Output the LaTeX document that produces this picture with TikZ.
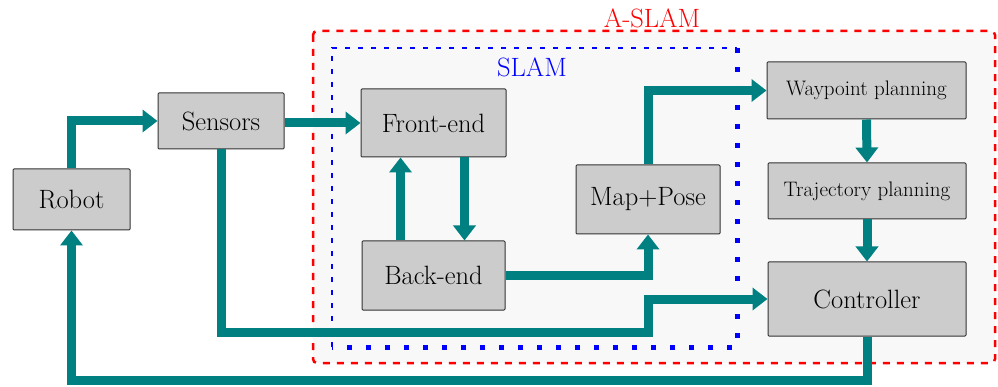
\documentclass[tikz,border=0pt]{standalone}
\usepackage{tikz}
\usetikzlibrary{arrows.meta}
\definecolor{tealline}{RGB}{0,128,128}
\definecolor{boxgray}{RGB}{204,204,204}
\definecolor{zonegray}{RGB}{248,248,248}
\tikzstyle{block}=[draw=black!80, fill=boxgray, line width=1pt, rounded corners=1pt, font=\fontsize{26.5}{30}\selectfont]
\tikzstyle{smallblock}=[block, font=\fontsize{21}{25}\selectfont]
\tikzstyle{arrow}=[draw=tealline, line width=9pt, -{Triangle[length=15pt, width=22pt]}]
\tikzstyle{zonered}=[draw=red, line width=2.5pt, dash pattern=on 7pt off 7pt, fill=zonegray, rounded corners=4pt]

\begin{document}
\begin{tikzpicture}[x=1pt, y=-1pt]
		   \useasboundingbox (0,0) rectangle (998,387);
		   \begin{scope}
			   \draw[zonered] (313,31) rectangle (995,363);
			   \node (aslam) at (652,18) [text=red, font=\fontsize{26.5}{30}\selectfont] {A-SLAM};
			   \draw[blue, line width=2pt, dash pattern=on 5pt off 8pt] (332,347) -- (332,48) -- (737,48);
			   \draw[blue, line width=5pt, dash pattern=on 5pt off 14pt] (737,48) -- (737,347) -- (332,347);
			   \node (slam) at (532,67) [text=blue, font=\fontsize{26.5}{30}\selectfont] {SLAM};
		   \end{scope}
		   \begin{scope}
			   \node (rob) at (71.5,199.5)[block, minimum width=117pt, minimum height=61pt] {Robot};
			   \node (sen) at (221,121)[block, minimum width=126pt, minimum height=56pt] {Sensors};
			   \node (fe) at (433.5,123)[block, minimum width=145pt, minimum height=68pt] {Front-end};
			   \node (be) at (433.5,275.5)[block, minimum width=143pt, minimum height=69pt] {Back-end};
			   \node (mp) at (648,199.5)[block, minimum width=144pt, minimum height=69pt] {Map+Pose};
			   \node (wp) at (866.5,90.5)[smallblock, minimum width=199pt, minimum height=57pt] {Waypoint planning};
			   \node (tp) at (867,191)[smallblock, minimum width=198pt, minimum height=56pt] {Trajectory planning};
			   \node (ctl) at (867,299)[block, minimum width=198pt, minimum height=74pt] {Controller};
			   \coordinate (low) at (648,332);
			   \coordinate (floor) at (867,380);
		   \end{scope}
		   \begin{scope}
			   \draw [arrow] (rob.north) |- (sen.west);
			   \draw [arrow] (sen.east |- fe.west) -- (fe.west);
			   \draw [arrow] ([xshift=-33pt]be.north) -- ([xshift=-33pt]fe.south);
			   \draw [arrow] ([xshift=31pt]fe.south) -- ([xshift=31pt]be.north);
			   \draw [arrow] (be.east) -| (mp.south);
			   \draw [arrow] (mp.north) |- (wp.west);
			   \draw [arrow] (wp.south) -- (tp.north);
			   \draw [arrow] (tp.south) -- (ctl.north);
			   \draw [arrow] (sen.south) |- (low) |- (ctl.west);
			   \draw [arrow] (ctl.south) -- (floor) -| (rob.south);
		   \end{scope}
\end{tikzpicture}
\end{document}
